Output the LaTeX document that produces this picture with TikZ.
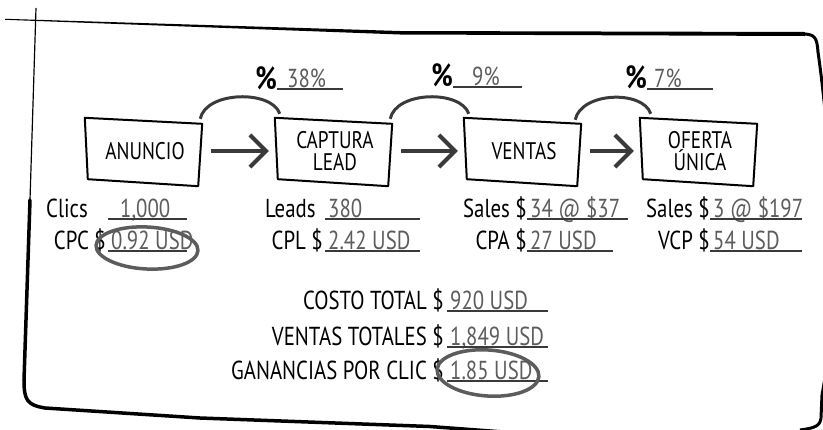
\documentclass[tikz,border=0pt]{standalone}
\usepackage{fontspec}
\setmainfont[FakeStretch=0.8]{PT Sans}
\usetikzlibrary{arrows.meta,positioning,calc}
\definecolor{inkgray}{HTML}{3A3A3A}
\definecolor{valgray}{HTML}{5C5C5C}
\newcommand{\stagefont}{\fontsize{24}{22}\selectfont}
\newcommand{\notefont}{\fontsize{26}{28}\selectfont}

\begin{document}
\begin{tikzpicture}[x=1pt, y=-1pt,
    >={Straight Barb[length=16pt, width=32pt]},
    stage/.style={inner sep=0pt, minimum width=114pt, minimum height=64pt, align=center, font=\stagefont},
    outline/.style={line width=2pt, line join=round},
    flow/.style={->, line width=4pt, draw=inkgray, shorten <=9pt, shorten >=9pt},
    hop/.style={line width=3pt, draw=inkgray},
    lbl/.style={font=\notefont, inner sep=0pt, anchor=base east},
    val/.style={font=\notefont, text=valgray, inner xsep=3pt, inner ysep=0pt, anchor=base west},
    pct/.style={font=\fontsize{32}{32}\bfseries, inner sep=0pt, anchor=base east},
    blank/.style={line width=2.6pt, draw=inkgray},
    ring/.style={line width=3.5pt, draw=valgray}]
  \useasboundingbox (0,0) rectangle (823,429);
  %% hand-drawn frame
  \fill (5,18.8) -- (400,31) -- (805,32) -- (805,36) -- (400,34.5) -- (5,19.8) -- cycle;
  \draw[line width=3pt] (803,34) .. controls (815,34) and (817,38) .. (818,52)
    .. controls (832,150) and (840,300) .. (822,395) -- (821,418)
    .. controls (820,426) and (815,428) .. (800,430);
  \draw[line width=1.2pt] (36,8) -- (30,200);
  \draw[line width=3.5pt, line cap=round] (30,200) -- (24,380) .. controls (24,400) and (27,405) .. (45,408)
    -- (200,418) -- (430,426.5) -- (530,434);
  %% funnel stages
  \node[stage] (anuncio) at (145,151) {ANUNCIO};
  \node[stage] (captura) at (335,151) {CAPTURA\\LEAD};
  \node[stage] (ventas) at (524,151) {VENTAS};
  \node[stage] (oferta) at (700,151) {OFERTA\\ÚNICA};
  \foreach \s in {anuncio,captura,ventas,oferta}
    \draw[outline] ($(\s.north west)+(-3,-1)$) -- ($(\s.north east)+(0,5)$)
      -- ($(\s.south east)+(-4,3)$) -- ($(\s.south west)+(0,-4)$) -- cycle;
  \draw[flow] (anuncio) -- (captura);
  \draw[flow] (captura) -- (ventas);
  \draw[flow] (ventas) -- (oferta);
  %% conversion arcs
  \draw[hop] ($(anuncio.north east)+(-2,0)$) .. controls +(6,-28) and +(-8,-24) .. ($(captura.north west)+(2,-5)$);
  \draw[hop] ($(captura.north east)+(-2,0)$) .. controls +(6,-28) and +(-8,-24) .. ($(ventas.north west)+(2,-5)$);
  \draw[hop] ($(ventas.north east)+(-6,1)$) .. controls +(6,-28) and +(-8,-24) .. ($(oferta.north west)+(8,-5)$);
  %% conversion rates
  \node[pct] (s1) at (277,89) {\%};
  \node[val] (r1) at (277,87) {\hspace{7pt}38\%};
  \node[pct] (s2) at (453,86) {\%};
  \node[val] (r2) at (453,85) {\hspace{16pt}9\%};
  \node[pct] (s3) at (647,88) {\%};
  \node[val] (r3) at (647,87) {\hspace{4pt}7\%};
  %% stage metrics
  \node[lbl, anchor=base west] (clics) at (46,217) {Clics};
  \node[val] (nclics) at (108,217) {\hspace{9pt}1,000};
  \node[lbl] (cpc) at (106,249) {CPC \$};
  \node[val] (ncpc) at (108,249) {0.92 USD};
  \node[lbl, anchor=base west] (leads) at (265,217) {Leads};
  \node[val] (nleads) at (325,217) {380};
  \node[lbl] (cpl) at (323,249) {CPL \$};
  \node[val] (ncpl) at (325,249) {2.42 USD};
  \node[lbl] (sales) at (527,217) {Sales \$};
  \node[val] (nsales) at (527,217) {34 @ \$37};
  \node[lbl] (cpa) at (527,249) {CPA \$};
  \node[val] (ncpa) at (527,249) {27 USD};
  \node[lbl] (upsell) at (710,217) {Sales \$};
  \node[val] (nupsell) at (710,217) {3 @ \$197};
  \node[lbl] (vcp) at (710,249) {VCP \$};
  \node[val] (nvcp) at (710,249) {54 USD};
  %% totals
  \node[lbl] (costo) at (444,309) {COSTO TOTAL \$};
  \node[val] (ncosto) at (447,309) {920 USD};
  \node[lbl] (vtotal) at (444,345) {VENTAS TOTALES \$};
  \node[val] (nvtotal) at (447,345) {1,849 USD};
  \node[lbl] (ganancia) at (444,379) {GANANCIAS POR CLIC \$};
  \node[val] (nganancia) at (447,379) {1.85 USD};
  %% blanks
  \foreach \v/\w in {r1/66,r2/69,r3/66,nclics/79,ncpc/79,nleads/95,ncpl/95,nsales/101,ncpa/86,nupsell/92,nvcp/92,ncosto/101,nvtotal/101,nganancia/101}
    \draw[blank] ([yshift=-2pt]\v.base west) -- ++(\w,0);
  %% highlighted values
  \draw[ring, rotate around={-3:(147,248)}] (147,248) ellipse [x radius=51pt, y radius=21pt];
  \draw[ring, rotate around={-4:(488,373)}] (488,373) ellipse [x radius=51pt, y radius=23pt];
\end{tikzpicture}
\end{document}
